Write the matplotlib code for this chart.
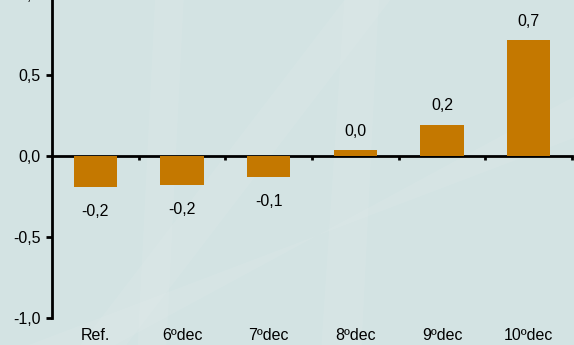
import matplotlib
matplotlib.use("Agg")
import matplotlib.pyplot as plt
from matplotlib.patches import Polygon
from matplotlib.transforms import blended_transform_factory

plt.rcParams["font.family"] = ["Liberation Sans", "DejaVu Sans"]

categories = ["Ref.", "6ºdec", "7ºdec", "8ºdec", "9ºdec", "10ºdec"]
values = [-0.19, -0.18, -0.13, 0.035, 0.195, 0.715]
value_labels = ["-0,2", "-0,2", "-0,1", "0,0", "0,2", "0,7"]
y_ticks = [-1.0, -0.5, 0.0, 0.5, 1.0]
y_tick_labels = ["-1,0", "-0,5", "0,0", "0,5", "1,0"]

BG = "#d3e3e3"
BAR = "#c47800"
FS = 11.5

fig = plt.figure(figsize=(5.74, 3.45), dpi=100, facecolor=BG)

# faint light streaks in the background
for pts in (
    [(0.14, 0.0), (0.22, 0.0), (0.68, 1.0), (0.60, 1.0)],
    [(0.24, 0.0), (0.29, 0.0), (0.32, 1.0), (0.27, 1.0)],
    [(0.56, 0.0), (0.63, 0.0), (0.66, 1.0), (0.60, 1.0)],
    [(0.05, 0.0), (0.20, 0.0), (1.0, 0.72), (1.0, 0.60)],
):
    fig.patches.append(Polygon(pts, closed=True, transform=fig.transFigure,
                               facecolor="white", alpha=0.07, linewidth=0,
                               zorder=0))

ax = fig.add_axes([0.0906, 0.078, 0.906, 0.939])
ax.set_facecolor("none")
ax.set_zorder(2)

x = range(len(categories))
ax.bar(x, values, width=0.5, color=BAR, zorder=3)

for xi, v, lab in zip(x, values, value_labels):
    if v < 0:
        ax.annotate(lab, (xi, v), xytext=(0, -12), textcoords="offset points",
                    ha="center", va="top", fontsize=FS)
    else:
        ax.annotate(lab, (xi, v), xytext=(0, 8), textcoords="offset points",
                    ha="center", va="bottom", fontsize=FS)

ax.set_xlim(-0.5, len(categories) - 0.5)
ax.set_ylim(-1.0, 1.0)

ax.spines["top"].set_visible(False)
ax.spines["right"].set_visible(False)
ax.spines["left"].set_linewidth(2)
ax.spines["bottom"].set_linewidth(2)
ax.spines["bottom"].set_position(("data", 0))

ax.set_yticks(y_ticks)
ax.set_yticklabels(y_tick_labels, fontsize=FS)
ax.tick_params(axis="y", direction="out", length=4, width=2, pad=4)

ax.set_xticks([i + 0.5 for i in range(len(categories))])
ax.set_xticklabels([])
ax.tick_params(axis="x", direction="out", length=3, width=2)

trans = blended_transform_factory(ax.transData, ax.transAxes)
for xi, cat in zip(x, categories):
    ax.text(xi, -0.055, cat, transform=trans, ha="center", va="center",
            fontsize=FS)

fig.savefig("out.png", dpi=100, facecolor=BG)
